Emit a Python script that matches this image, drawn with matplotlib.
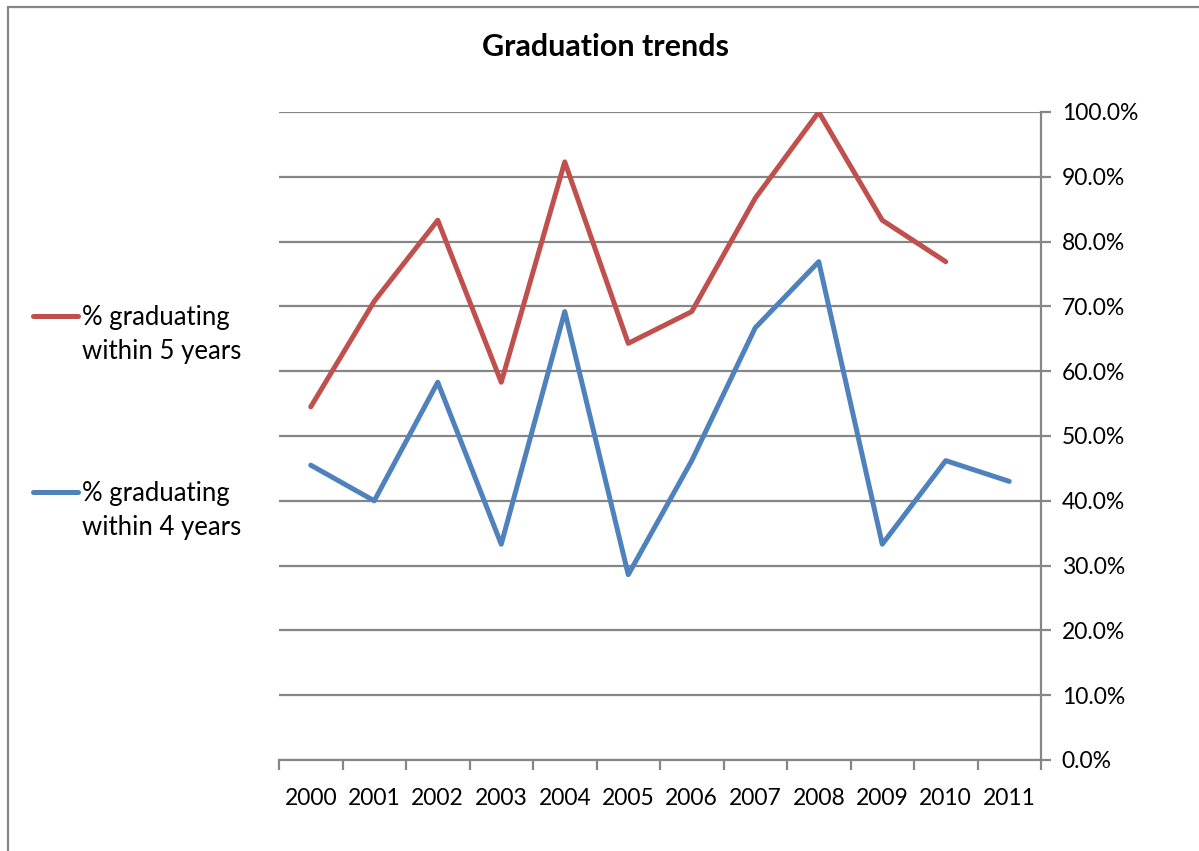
import matplotlib.pyplot as plt
import numpy as np
from matplotlib.lines import Line2D
from matplotlib.patches import Rectangle
from matplotlib.ticker import FixedLocator, PercentFormatter

plt.rcParams['font.family'] = ['Lato', 'DejaVu Sans']

years = ['2000', '2001', '2002', '2003', '2004', '2005',
         '2006', '2007', '2008', '2009', '2010', '2011']
within_5 = [54.5, 70.8, 83.3, 58.3, 92.3, 64.3, 69.2, 86.7, 100.0, 83.3, 76.9, np.nan]
within_4 = [45.5, 40.0, 58.3, 33.3, 69.2, 28.6, 46.2, 66.7, 76.9, 33.3, 46.2, 43.0]
labels = ['% graduating\nwithin 5 years', '% graduating\nwithin 4 years']

red = '#C0504D'
blue = '#4F81BD'
grey = '#868686'

W, H = 1199, 851
fig = plt.figure(figsize=(W / 100, H / 100), dpi=100)
ax = fig.add_axes([279 / W, 1 - 760 / H, 762 / W, 648 / H])

x = np.arange(len(years))
ax.plot(x, within_5, color=red, lw=3.6, solid_capstyle='round', solid_joinstyle='round')
ax.plot(x, within_4, color=blue, lw=3.6, solid_capstyle='round', solid_joinstyle='round')

ax.set_xlim(-0.5, len(years) - 0.5)
ax.set_ylim(0, 100)

# y axis on the right, gridlines every 10%
ax.yaxis.tick_right()
ax.set_yticks(np.arange(0, 101, 10))
ax.yaxis.set_major_formatter(PercentFormatter(decimals=1))
ax.grid(axis='y', color=grey, lw=1.6)
ax.set_axisbelow(True)

# category ticks between years, labels centred on years
ax.xaxis.set_major_locator(FixedLocator(np.arange(-0.5, len(years), 1)))
ax.xaxis.set_minor_locator(FixedLocator(x))
ax.set_xticklabels([])
ax.set_xticklabels(years, minor=True)
ax.tick_params(axis='x', which='major', length=7, width=1.6, color=grey, direction='out')
ax.tick_params(axis='x', which='minor', length=0, pad=20, labelsize=16.5)
ax.tick_params(axis='y', length=7, width=1.6, color=grey, pad=8, labelsize=16.5)

for side in ['top', 'left']:
    ax.spines[side].set_visible(False)
ax.spines['right'].set_color(grey)
ax.spines['right'].set_linewidth(1.6)
ax.spines['bottom'].set_color(grey)
ax.spines['bottom'].set_linewidth(1.6)

fig.text(606 / W, 1 - 47 / H, 'Graduation trends', ha='center', va='center',
         fontsize=22, fontweight='bold')

# legend on the left
for color, label, ly in [(red, labels[0], 316), (blue, labels[1], 492)]:
    fig.add_artist(Line2D([33 / W, 78 / W], [1 - ly / H, 1 - ly / H], color=color,
                          lw=3.6, solid_capstyle='round'))
    fig.text(82 / W, 1 - (ly - 11) / H, label, ha='left', va='top',
             fontsize=18.5, linespacing=1.45)

# outer chart frame
fig.add_artist(Rectangle((8 / W, -0.1), 1.2, 1.1 - 7 / H, transform=fig.transFigure,
                         fill=False, edgecolor=grey, lw=1.6))

fig.savefig('out.png', dpi=100)
